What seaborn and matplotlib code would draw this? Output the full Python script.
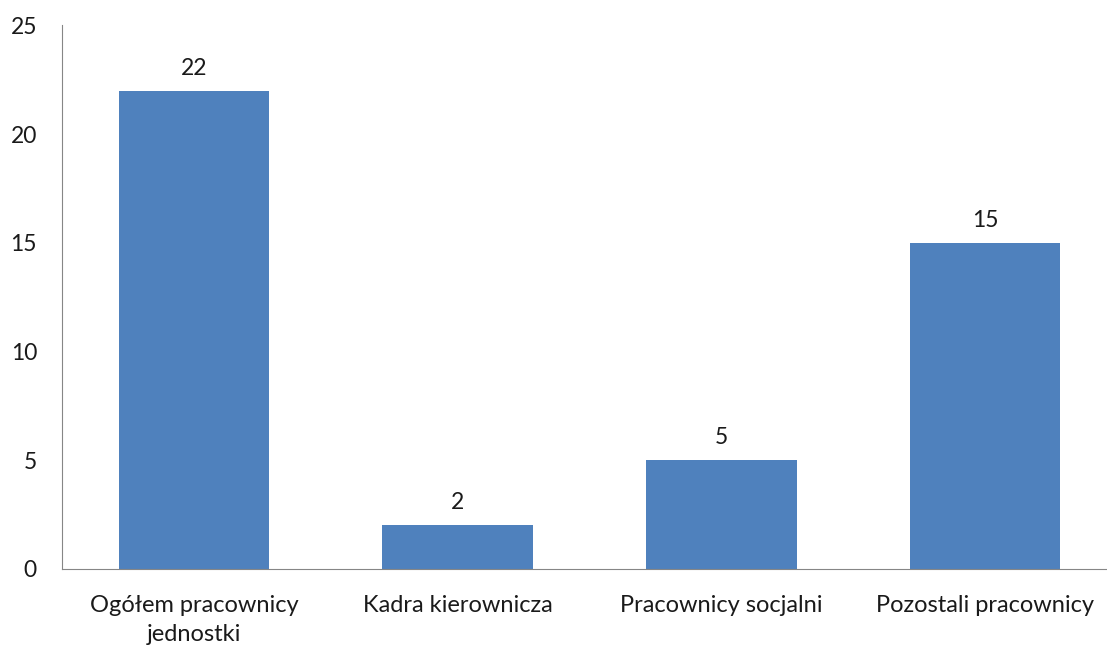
import matplotlib
matplotlib.use("Agg")
import matplotlib.pyplot as plt
import seaborn as sns
import pandas as pd

categories = ["Ogółem pracownicy\njednostki", "Kadra kierownicza",
              "Pracownicy socjalni", "Pozostali pracownicy"]
values = [22, 2, 5, 15]
yticks = [0, 5, 10, 15, 20, 25]

df = pd.DataFrame({"kategoria": categories, "liczba": values})

sns.set_style("white")
plt.rcParams["font.family"] = ["Lato", "DejaVu Sans"]

fig = plt.figure(figsize=(11.07, 6.48), dpi=100)
ax = fig.add_axes([0.056, 0.122, 0.953, 0.839])
sns.barplot(data=df, x="kategoria", y="liczba", color="#4F81BD",
            saturation=1, width=0.57, linewidth=0, ax=ax)

for i, v in enumerate(values):
    ax.text(i, v + 0.55, str(v), ha="center", va="bottom", fontsize=16.5,
            color="#1a1a1a")

ax.set_ylim(0, 25)
ax.set_xlim(-0.5, 3.5)
ax.set_yticks(yticks)
ax.set_xlabel("")
ax.set_ylabel("")
ax.tick_params(axis="y", labelsize=16.5, colors="#1a1a1a", length=0, pad=18)
ax.tick_params(axis="x", labelsize=17, colors="#1a1a1a", length=0, pad=19)
for lbl in ax.get_xticklabels():
    lbl.set_linespacing(1.45)
for s in ["top", "right"]:
    ax.spines[s].set_visible(False)
ax.spines["left"].set_color("#868686")
ax.spines["bottom"].set_color("#868686")

plt.savefig("out.png", dpi=100)
plt.close()
